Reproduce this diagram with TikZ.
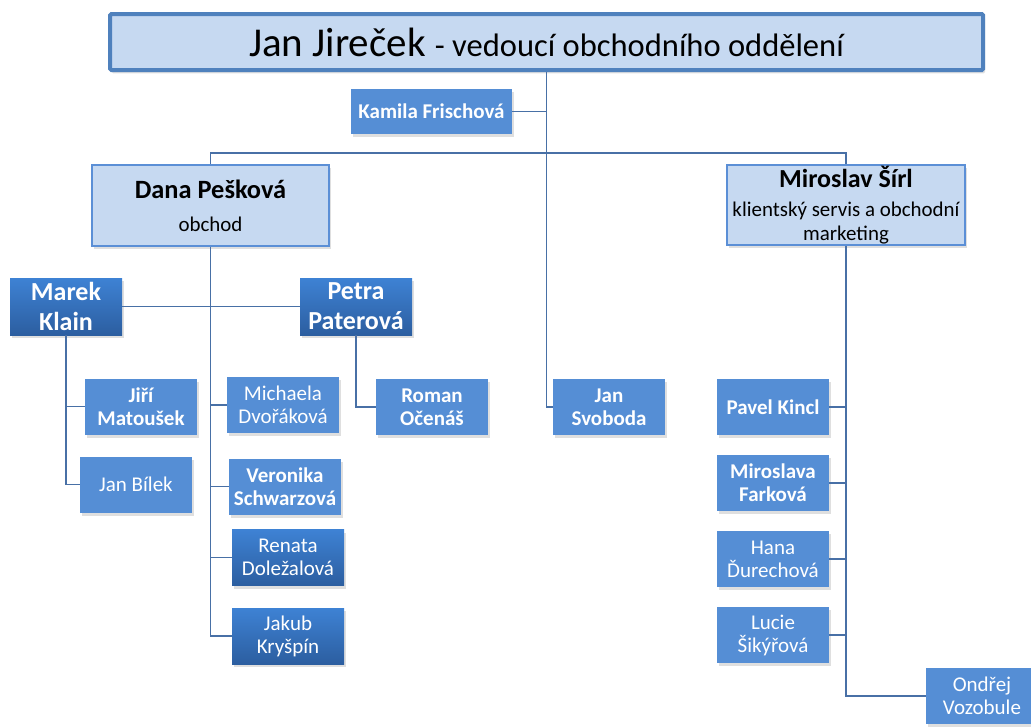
\documentclass[tikz,border=0pt]{standalone}
\usepackage{fontspec}
\setmainfont{Carlito}
\usetikzlibrary{shadows}
\definecolor{titleedge}{RGB}{79,129,189}
\definecolor{paleblue}{RGB}{198,217,241}
\definecolor{paleedge}{RGB}{91,143,214}
\definecolor{midblue}{RGB}{85,142,213}
\definecolor{topblue}{RGB}{62,130,212}
\definecolor{bottomblue}{RGB}{44,94,160}
\definecolor{linkblue}{RGB}{72,112,166}
\tikzset{
	boxshadow/.style = {drop shadow = {opacity = 0.25, shadow xshift = 1.5pt, shadow yshift = -2.5pt}},
	link/.style = {draw = linkblue, line width = 1.4pt},
	person/.style = {rectangle, fill = midblue, text = white, align = center, minimum width = 84pt, minimum height = 42pt, inner sep = 1pt, boxshadow, font = \fontsize{15.75}{17.25}\selectfont},
	boldperson/.style = {person, font = \bfseries\fontsize{15.75}{17.25}\selectfont},
	darkperson/.style = {person, top color = topblue, bottom color = bottomblue},
	lead/.style = {darkperson, minimum height = 42.75pt, font = \bfseries\fontsize{19.5}{22.5}\selectfont},
	head/.style = {rectangle, draw = paleedge, line width = 1.5pt, fill = paleblue, align = center, inner sep = 1pt, boxshadow, font = \fontsize{15.7}{18}\selectfont},
	chief/.style = {rectangle, draw = titleedge, line width = 3pt, fill = paleblue, rounded corners = 1pt, minimum width = 654.75pt, minimum height = 42pt, boxshadow, font = \fontsize{30.75}{36}\selectfont}
}
\begin{document}
\begin{tikzpicture}[x = 0.75pt, y = -0.75pt]
		\useasboundingbox (0, 0) rectangle (1031, 726);
		\node[chief] (top) at (546.5, 42) {Jan Jireček {\fontsize{24.4}{28}\selectfont - vedoucí obchodního oddělení}};
		\node[boldperson, minimum width = 120.75pt, minimum height = 33.75pt] (kamila) at (431.5, 111.5) {Kamila Frischová};
		\node[head, minimum width = 177.75pt, minimum height = 60.75pt] (dana) at (210.5, 205.5) {{\bfseries\fontsize{19.8}{22}\selectfont Dana Pešková}\\[7pt]obchod};
		\node[head, minimum width = 178.5pt, minimum height = 60pt] (miroslav) at (846, 205) {{\bfseries\fontsize{19.5}{22}\selectfont Miroslav Šírl}\\[3.5pt]klientský servis a obchodní\\marketing};
		\node[lead] (marek) at (66, 306.5) {Marek\\Klain};
		\node[lead] (petra) at (356, 306.5) {Petra\\Paterová};
		\node[boldperson] (jiri) at (141, 406.5) {Jiří\\Matoušek};
		\node[person] (bilek) at (136, 484.5) {Jan Bílek};
		\node[person] (michaela) at (283, 405) {Michaela\\Dvořáková};
		\node[boldperson] (veronika) at (285, 486.5) {Veronika\\Schwarzová};
		\node[darkperson] (renata) at (288, 557.5) {Renata\\Doležalová};
		\node[darkperson] (jakub) at (288, 636) {Jakub\\Kryšpín};
		\node[boldperson] (roman) at (432, 407) {Roman\\Očenáš};
		\node[boldperson] (svoboda) at (609, 407) {Jan\\Svoboda};
		\node[boldperson] (pavel) at (773, 407) {Pavel Kincl};
		\node[boldperson] (miroslava) at (773, 483) {Miroslava\\Farková};
		\node[person] (hana) at (773, 559) {Hana\\Ďurechová};
		\node[person] (lucie) at (773, 635) {Lucie\\Šikýřová};
		\node[person] (ondrej) at (982, 696) {Ondřej\\Vozobule};
		\coordinate (split) at (546, 153);
		\draw[link] (top.south) |- (svoboda.west);
		\draw[link] (kamila.east) -- (kamila.east -| top.south);
		\draw[link] (dana.north) |- (split) -| (miroslav.north);
		\draw[link] (dana.south) |- (jakub.west);
		\foreach \n in {michaela, veronika, renata}
			\draw[link] (dana.south |- \n.west) -- (\n.west);
		\draw[link] (marek.east) -- (petra.west);
		\draw[link] (marek.south) |- (bilek.west);
		\draw[link] (marek.south |- jiri.west) -- (jiri.west);
		\draw[link] (petra.south) |- (roman.west);
		\draw[link] (miroslav.south) |- (ondrej.west);
		\foreach \n in {pavel, miroslava, hana, lucie}
			\draw[link] (miroslav.south |- \n.east) -- (\n.east);
	\end{tikzpicture}
\end{document}
